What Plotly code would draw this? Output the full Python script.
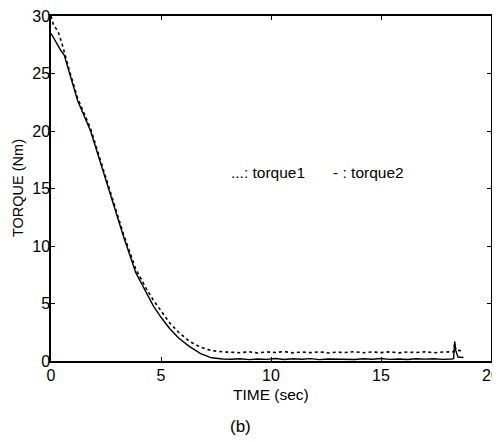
import plotly.graph_objects as go

# torque2 (solid) decay part
t2_decay = [0, 0.2, 0.45, 0.6, 0.8, 1.2, 1.8, 2.6, 3.3, 3.85, 4.3, 4.65, 5.0, 5.4, 5.8, 6.3, 6.8, 7.3, 7.8]
y2_decay = [28.5, 27.8, 27.0, 26.6, 25.3, 22.7, 20.0, 15.0, 10.8, 7.7, 6.0, 4.8, 3.8, 2.8, 2.0, 1.25, 0.65, 0.28, 0.17]
# torque1 (dotted) decay part
t1_decay = [0, 0.1, 0.33, 0.5, 0.8, 1.2, 1.8, 2.6, 3.3, 3.85, 4.3, 4.65, 5.0, 5.4, 5.8, 6.3, 6.8, 7.3, 7.8]
y1_decay = [30.0, 29.3, 28.6, 27.6, 25.5, 22.9, 20.2, 15.2, 11.0, 8.0, 6.4, 5.3, 4.4, 3.3, 2.5, 1.7, 1.2, 0.9, 0.8]

# steady part (hand-read)
t_flat = [8.2, 8.6, 9.0, 9.4, 9.8, 10.2, 10.6, 11.0, 11.4, 11.8, 12.2, 12.6, 13.0, 13.4, 13.8,
          14.2, 14.6, 15.0, 15.4, 15.8, 16.2, 16.6, 17.0, 17.4, 17.8, 18.2]
y2_flat = [0.15, 0.2, 0.12, 0.18, 0.14, 0.22, 0.13, 0.19, 0.15, 0.21, 0.12, 0.18, 0.16, 0.2, 0.13,
           0.19, 0.15, 0.22, 0.14, 0.18, 0.13, 0.2, 0.16, 0.19, 0.14, 0.18]
y1_flat = [0.78, 0.72, 0.8, 0.7, 0.79, 0.74, 0.82, 0.71, 0.78, 0.73, 0.8, 0.7, 0.77, 0.74, 0.81,
           0.72, 0.79, 0.73, 0.8, 0.71, 0.78, 0.74, 0.8, 0.72, 0.78, 0.75]

# end spike
t2_end = [18.3, 18.35, 18.4, 18.5, 18.75]
y2_end = [0.2, 1.7, 0.9, 0.35, 0.3]
t1_end = [18.3, 18.35, 18.4, 18.6, 18.75]
y1_end = [0.8, 1.5, 0.95, 0.9, 0.85]

t1 = t1_decay + t_flat + t1_end
y1 = y1_decay + y1_flat + y1_end
t2 = t2_decay + t_flat + t2_end
y2 = y2_decay + y2_flat + y2_end

FONT = "Liberation Sans, Arial, sans-serif"

fig = go.Figure()
fig.add_trace(go.Scatter(x=t1, y=y1, mode="lines", name="torque1",
                         line=dict(color="black", width=1.6, dash="dot")))
fig.add_trace(go.Scatter(x=t2, y=y2, mode="lines", name="torque2",
                         line=dict(color="black", width=1.4)))

axis_common = dict(showline=True, linecolor="black", linewidth=1.5, mirror="allticks",
                   ticks="inside", ticklen=4, tickcolor="black", tickwidth=1.2,
                   showgrid=False, zeroline=False, automargin=False,
                   ticklabeloverflow="allow",
                   tickfont=dict(family=FONT, size=16, color="black"))

fig.update_xaxes(range=[0, 20], tickvals=[0, 5, 10, 15, 20], ticklabelstandoff=-1, **axis_common)
fig.update_yaxes(range=[0, 30], tickvals=[0, 5, 10, 15, 20, 25, 30], ticklabelstandoff=-4, **axis_common)

# axis titles as annotations
fig.add_annotation(x=0.5, y=0, xref="paper", yref="paper", yshift=-33, showarrow=False,
                   text="TIME (sec)", font=dict(family=FONT, size=15.5, color="black"),
                   xanchor="center", yanchor="middle")
fig.add_annotation(x=0, y=0.5, xref="paper", yref="paper", xshift=-33.5, showarrow=False,
                   text="TORQUE (Nm)", textangle=-90,
                   font=dict(family=FONT, size=14.5, color="black"),
                   xanchor="center", yanchor="middle")

# in-plot legend texts
fig.add_annotation(x=8.1, y=16.4, xref="x", yref="y", xanchor="left", showarrow=False,
                   text="...: torque1", font=dict(family=FONT, size=15.5, color="black"))
fig.add_annotation(x=12.74, y=16.4, xref="x", yref="y", xanchor="left", showarrow=False,
                   text="- : torque2", font=dict(family=FONT, size=15.5, color="black"))

fig.add_annotation(x=0.43, y=0, xref="paper", yref="paper", yshift=-65, showarrow=False,
                   text="(b)", font=dict(family=FONT, size=17, color="black"),
                   xanchor="center", yanchor="middle")

# page body has an 8px offset; size the figure so the plot area lands where the reference has it
fig.update_layout(width=492, height=434, showlegend=False,
                  margin=dict(l=43, r=9, t=8, b=81),
                  paper_bgcolor="white", plot_bgcolor="white")

fig.write_html("out.html")
